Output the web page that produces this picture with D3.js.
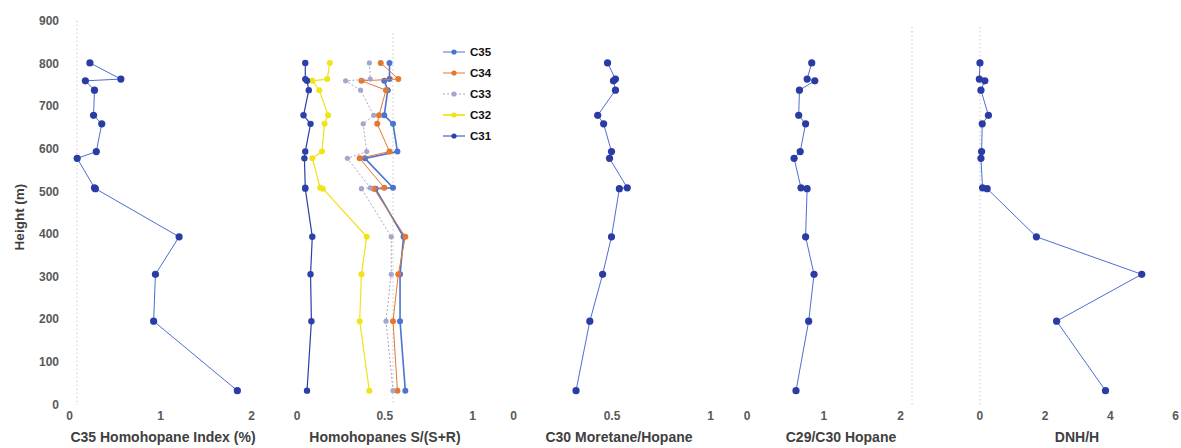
<!DOCTYPE html>
<html>
<head>
<meta charset="utf-8">
<script src="https://cdn.jsdelivr.net/npm/d3@7"></script>
<style>
  html, body { margin: 0; padding: 0; background: #fff; }
  svg { display: block; font-family: "Liberation Sans", Arial, sans-serif; }
</style>
</head>
<body>
<svg id="chart" width="1181" height="448"></svg>
<script>
// Sample heights in the section (m), top to bottom
const heights = [801, 763, 759, 737, 678, 658, 593, 577, 508, 506, 393, 305, 195, 32];

// Single-curve profiles
const c35Index   = [0.23, 0.57, 0.18, 0.28, 0.27, 0.36, 0.30, 0.09, 0.28, 0.29, 1.21, 0.95, 0.93, 1.85];
const moretane   = [0.48, 0.52, 0.51, 0.52, 0.43, 0.46, 0.50, 0.49, 0.58, 0.54, 0.50, 0.455, 0.39, 0.32];
const c29c30     = [0.85, 0.79, 0.89, 0.69, 0.68, 0.77, 0.70, 0.62, 0.71, 0.79, 0.77, 0.88, 0.81, 0.645];
const dnhH       = [0.02, 0.00, 0.17, 0.05, 0.28, 0.09, 0.07, 0.05, 0.10, 0.24, 1.75, 4.98, 2.37, 3.87];

// Homohopane 22S/(22S+22R) by carbon number
const sC35 = [0.53, 0.53, 0.50, 0.52, 0.50, 0.55, 0.575, 0.39, 0.55, 0.45, 0.61, 0.59, 0.59, 0.62];
const sC34 = [0.48, 0.58, 0.37, 0.51, 0.47, 0.46, 0.53, 0.36, 0.50, 0.44, 0.62, 0.58, 0.55, 0.575];
const sC33 = [0.415, 0.42, 0.28, 0.365, 0.44, 0.38, 0.40, 0.29, 0.42, 0.37, 0.54, 0.54, 0.51, 0.55];
const sC32 = [0.19, 0.175, 0.09, 0.13, 0.18, 0.16, 0.145, 0.09, 0.135, 0.15, 0.40, 0.37, 0.36, 0.415];
const sC31 = [0.05, 0.05, 0.06, 0.07, 0.04, 0.08, 0.05, 0.045, 0.05, 0.05, 0.09, 0.08, 0.085, 0.06];

// Axis ticks
const heightTicks = [0, 100, 200, 300, 400, 500, 600, 700, 800, 900];
const ticks02 = [0, 1, 2];
const ticks01 = [0, 0.5, 1];
const ticks06 = [0, 2, 4, 6];

const seriesNames = ["C35", "C34", "C33", "C32", "C31"];
const seriesValues = [sC35, sC34, sC33, sC32, sC31];

// ---- styles / layout ----
const seriesStyle = {
  C35: { color: "#4a74d0", width: 1.6, dash: null, r: 3 },
  C34: { color: "#e5772f", width: 1.0, dash: null, r: 3 },
  C33: { color: "#a6a6cc", width: 1.0, dash: "2,2", r: 2.6 },
  C32: { color: "#f2e21a", width: 1.2, dash: null, r: 3 },
  C31: { color: "#2b40a8", width: 1.2, dash: null, r: 3.2 }
};
const lineBlue = "#4c6fd2";
const dotBlue = "#2a3ca4";

const svg = d3.select("#chart");
const y = d3.scaleLinear().domain([0, 900]).range([404.3, 20.7]);

const panels = [
  { title: "C35 Homohopane Index (%)", domain: [0, 2], range: [69, 251], ticks: ticks02, titleX: 163, guide: 77 },
  { title: "Homohopanes S/(S+R)", domain: [0, 1], range: [296.5, 472], ticks: ticks01, titleX: 385, guide: 393, guideTop: 33 },
  { title: "C30 Moretane/Hopane", domain: [0, 1], range: [513, 710], ticks: ticks01, titleX: 619 },
  { title: "C29/C30 Hopane", domain: [0, 2], range: [746.5, 900], ticks: ticks02, titleX: 841, guide: 912, guideTop: 27 },
  { title: "DNH/H", domain: [0, 6], range: [979.3, 1175], ticks: ticks06, titleX: 1077, guide: 980, guideTop: 27 }
];
panels.forEach(p => { p.x = d3.scaleLinear().domain(p.domain).range(p.range); });

// Height axis
const yAxis = svg.append("g")
  .attr("transform", "translate(60,0)")
  .call(d3.axisLeft(y).tickValues(heightTicks).tickSize(0).tickPadding(1).tickFormat(d3.format("d")));
yAxis.select(".domain").remove();
yAxis.selectAll("text")
  .attr("fill", "#595959").attr("font-size", 12).attr("font-weight", "bold")
  .attr("font-family", "Liberation Sans, Arial, sans-serif");

svg.append("text")
  .attr("transform", "translate(24,217) rotate(-90)")
  .attr("text-anchor", "middle")
  .attr("fill", "#404040").attr("font-size", 13.5).attr("font-weight", "bold")
  .text("Height (m)");

// Panel frames: light dotted axis line, tick labels and title
panels.forEach(p => {
  if (p.guide !== undefined) {
    svg.append("line")
      .attr("x1", p.guide).attr("x2", p.guide)
      .attr("y1", p.guideTop || 20.7).attr("y2", 405)
      .attr("stroke", "#c8c8c8").attr("stroke-width", 1)
      .attr("stroke-dasharray", "1.5,2.5");
  }
  const g = svg.append("g")
    .attr("transform", "translate(0,411)")
    .call(d3.axisBottom(p.x).tickValues(p.ticks).tickSize(0).tickPadding(0).tickFormat(d => String(d)));
  g.select(".domain").remove();
  g.selectAll("text")
    .attr("fill", "#595959").attr("font-size", 12).attr("font-weight", "bold")
    .attr("font-family", "Liberation Sans, Arial, sans-serif");
  svg.append("text")
    .attr("x", p.titleX).attr("y", 442)
    .attr("text-anchor", "middle")
    .attr("fill", "#404040").attr("font-size", 14).attr("font-weight", "bold")
    .text(p.title);
});

// One profile curve: line + dot markers
function drawProfile(xScale, values, stroke, width, dash, fill, r) {
  const pts = heights.map((h, i) => [values[i], h]);
  const line = d3.line().x(d => xScale(d[0])).y(d => y(d[1]));
  svg.append("path")
    .datum(pts)
    .attr("d", line)
    .attr("fill", "none")
    .attr("stroke", stroke)
    .attr("stroke-width", width)
    .attr("stroke-dasharray", dash);
  svg.append("g").selectAll("circle")
    .data(pts).join("circle")
    .attr("cx", d => xScale(d[0]))
    .attr("cy", d => y(d[1]))
    .attr("r", r)
    .attr("fill", fill);
}

drawProfile(panels[0].x, c35Index, lineBlue, 1, null, dotBlue, 3.6);

seriesNames.forEach((name, i) => {
  const s = seriesStyle[name];
  drawProfile(panels[1].x, seriesValues[i], s.color, s.width, s.dash, s.color, s.r);
});

drawProfile(panels[2].x, moretane, lineBlue, 1, null, dotBlue, 3.6);
drawProfile(panels[3].x, c29c30, lineBlue, 1, null, dotBlue, 3.6);
drawProfile(panels[4].x, dnhH, lineBlue, 1, null, dotBlue, 3.6);

// Legend for the S/(S+R) panel
const legend = svg.append("g").attr("transform", "translate(443,52)");
seriesNames.forEach((name, i) => {
  const s = seriesStyle[name];
  const row = legend.append("g").attr("transform", `translate(0,${i * 21})`);
  row.append("line")
    .attr("x1", 0).attr("x2", 22).attr("y1", 0).attr("y2", 0)
    .attr("stroke", s.color).attr("stroke-width", name === "C32" ? 1.8 : 1)
    .attr("stroke-dasharray", s.dash);
  row.append("circle").attr("cx", 11).attr("cy", 0).attr("r", 2.6).attr("fill", s.color);
  row.append("text")
    .attr("x", 27).attr("y", 4)
    .attr("fill", "#111").attr("font-size", 11.5).attr("font-weight", "bold")
    .text(name);
});
</script>
</body>
</html>
